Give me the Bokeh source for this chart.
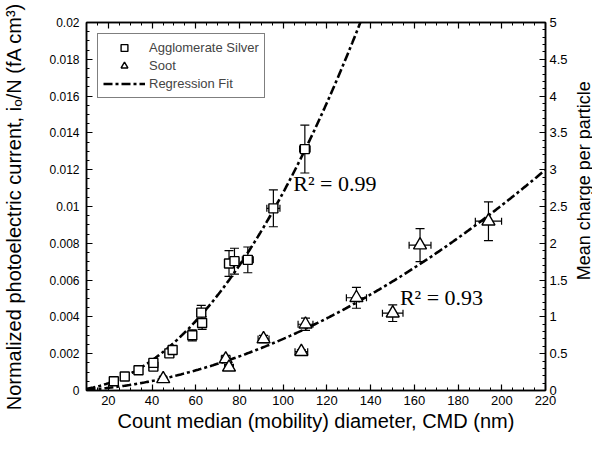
import math
import numpy as np
from bokeh.plotting import figure
from bokeh.layouts import row
from bokeh.core.properties import value
from bokeh.models import (ColumnDataSource, Range1d, LinearAxis, SingleIntervalTicker,
                          Whisker, TeeHead, Legend, LegendItem, Label, CustomJSTickFormatter)
from bokeh.embed import file_html
from bokeh.resources import INLINE

# ---- data ----
silver_cmd = [22.5, 27.5, 33.8, 40.6, 40.6, 47.9, 49.4, 58.4, 62.9, 62.5, 75.2, 77.7, 83.8, 95.5, 109.9]
silver_i = [0.00050, 0.00076, 0.00110, 0.00130, 0.00150, 0.00202, 0.00220, 0.00300, 0.00367, 0.00423,
            0.00690, 0.00703, 0.00710, 0.00990, 0.01312]
silver_ierr = [0.0001, 0.0002, 0.0001, 0.00012, 0.00015, 0.0001, 0.00015, 0.0003, 0.00035, 0.0004,
               0.0007, 0.0007, 0.0007, 0.0010, 0.0013]
silver_derr = [1, 1, 1, 1, 1, 1, 1.5, 1.5, 1.5, 1.5, 2, 2, 2.5, 3, 2.4]

soot_cmd = [45.1, 73.7, 75.2, 91.0, 108.3, 110.2, 133.5, 150.1, 162.6, 193.9]
soot_i = [0.00063, 0.00171, 0.00126, 0.00280, 0.00211, 0.00360, 0.00504, 0.00420, 0.00790, 0.00920]
soot_ierr = [0.0001, 0.0002, 0.00015, 0.0002, 0.0001, 0.00033, 0.00057, 0.00045, 0.0009, 0.00105]
soot_derr = [1.5, 2, 2, 2.5, 2.9, 3.4, 4.6, 4.7, 5, 6]

# regression fits  i/N = a * CMD^b
silver_fit = (8.55e-7, 2.05)
soot_fit = (5.783e-7, 1.843)
fit_labels = ["R² = 0.99", "R² = 0.93"]
right_title = "Mean charge per particle"

FONT = "Liberation Sans"
H = 435

p = figure(width=570, height=H, output_backend="svg", toolbar_location=None,
           x_range=Range1d(10, 220), y_range=Range1d(0, 0.02),
           min_border_left=83, min_border_right=24, min_border_top=22, min_border_bottom=45,
           x_axis_label="Count median (mobility) diameter, CMD (nm)",
           y_axis_label="Normalized photoelectric current, iₒ/N (fA cm³)")
p.grid.visible = False
p.outline_line_color = "black"
p.outline_line_width = 1.5
p.extra_y_ranges = {"charge": Range1d(0, 5)}

fmt = CustomJSTickFormatter(code="return String(parseFloat(tick.toFixed(4)));")
blank = CustomJSTickFormatter(code="return '';")

def style(ax, size="13px"):
    ax.axis_line_width = 1.5
    ax.axis_line_color = "black"
    ax.major_tick_in = 6
    ax.major_tick_out = 0
    ax.minor_tick_in = 3
    ax.minor_tick_out = 0
    ax.major_tick_line_width = 1.2
    ax.minor_tick_line_width = 1.0
    ax.major_tick_line_color = "black"
    ax.minor_tick_line_color = "black"
    ax.major_label_text_font = FONT
    ax.major_label_text_font_size = size
    ax.major_label_text_color = "black"
    ax.axis_label_text_font = FONT
    ax.axis_label_text_font_style = "normal"
    ax.axis_label_text_font_size = "20px"
    ax.axis_label_text_color = "black"
    ax.formatter = fmt

xb = p.xaxis[0]
xb.ticker = SingleIntervalTicker(interval=20, num_minor_ticks=4)
style(xb)
xb.major_label_standoff = 5
xb.axis_label_standoff = 2

yl = p.yaxis[0]
yl.ticker = SingleIntervalTicker(interval=0.002, num_minor_ticks=4)
style(yl, "12px")
yl.major_label_standoff = 7
yl.axis_label_standoff = 21

xt = LinearAxis(ticker=SingleIntervalTicker(interval=20, num_minor_ticks=4))
style(xt)
xt.formatter = blank
xt.major_label_standoff = 0
p.add_layout(xt, "above")

yr = LinearAxis(y_range_name="charge",
                ticker=SingleIntervalTicker(interval=0.5, num_minor_ticks=5))
style(yr)
yr.major_label_standoff = 4
p.add_layout(yr, "right")

# fit curves
xs = np.linspace(10, 220, 400)
fit_src = ColumnDataSource(dict(x=xs, silver=silver_fit[0] * xs ** silver_fit[1],
                                soot=soot_fit[0] * xs ** soot_fit[1]))
dash = "9 3 3 3"
fit1 = p.line("x", "silver", source=fit_src, line_color="black", line_width=2.6, line_dash=dash)
fit2 = p.line("x", "soot", source=fit_src, line_color="black", line_width=2.6, line_dash=dash)

# error bars
def errbars(xv, yv, xe, ye):
    src = ColumnDataSource(dict(
        x=xv, y=yv,
        ylo=[a - b for a, b in zip(yv, ye)], yhi=[a + b for a, b in zip(yv, ye)],
        xlo=[a - b for a, b in zip(xv, xe)], xhi=[a + b for a, b in zip(xv, xe)]))
    wy = Whisker(source=src, base="x", lower="ylo", upper="yhi", dimension="height",
                 line_color="black", line_width=1.2,
                 upper_head=TeeHead(size=9, line_width=1.2), lower_head=TeeHead(size=9, line_width=1.2))
    wx = Whisker(source=src, base="y", lower="xlo", upper="xhi", dimension="width",
                 line_color="black", line_width=1.2,
                 upper_head=TeeHead(size=7, line_width=1.2), lower_head=TeeHead(size=7, line_width=1.2))
    p.add_layout(wy)
    p.add_layout(wx)

errbars(silver_cmd, silver_i, silver_derr, silver_ierr)
errbars(soot_cmd, soot_i, soot_derr, soot_ierr)

sq = p.scatter(silver_cmd, silver_i, marker="square", size=9, fill_color="white",
               line_color="black", line_width=1.4)
tr = p.scatter(soot_cmd, soot_i, marker="triangle", size=13, fill_color="white",
               line_color="black", line_width=1.4)

p.add_layout(Label(x=104.6, y=0.01124, text=fit_labels[0], text_font="Liberation Serif",
                   text_font_size="22px", text_baseline="middle", text_color="black"))
p.add_layout(Label(x=153.4, y=0.00503, text=fit_labels[1], text_font="Liberation Serif",
                   text_font_size="22px", text_baseline="middle", text_color="black"))

legend = Legend(items=[LegendItem(label="Agglomerate Silver", renderers=[sq]),
                       LegendItem(label="Soot", renderers=[tr]),
                       LegendItem(label="Regression Fit", renderers=[fit1])],
                location="top_left", margin=11, padding=5, spacing=1,
                label_height=17, glyph_height=17, glyph_width=42, label_standoff=4,
                label_text_font=FONT, label_text_font_size="13px",
                border_line_color="black", border_line_width=1.5,
                background_fill_alpha=1.0)
p.add_layout(legend)

# narrow strip on the right holding the right-axis title (reads bottom to top)
side = figure(width=22, height=H, output_backend="svg", toolbar_location=None,
              x_range=Range1d(0, 22), y_range=Range1d(0, H),
              x_axis_location=None, y_axis_location=None, min_border=0)
side.grid.visible = False
side.outline_line_color = None
side.text(x=[13], y=[H - 187], text=[right_title], angle=math.pi / 2,
          text_align="center", text_baseline="middle",
          text_font=value(FONT), text_font_size="18px", text_color="black")

layout = row(p, side)
open("out.html", "w").write(file_html(layout, INLINE))
